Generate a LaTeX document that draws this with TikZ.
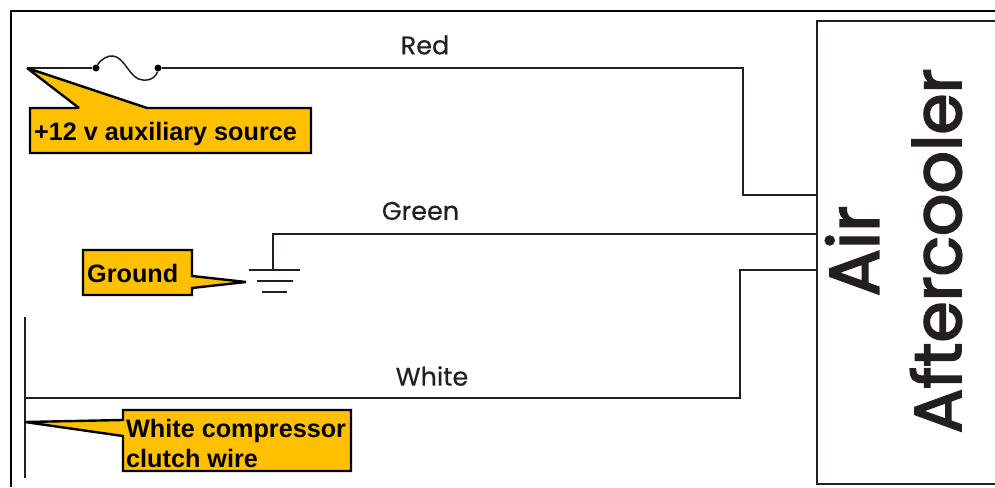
\documentclass[tikz,border=0pt]{standalone}
\usepackage{fontspec}
\setmainfont{Liberation Sans}
\newfontfamily\wirefont[FakeBold=0.5]{Poppins}
\newfontfamily\titlefont[FakeBold=2.6]{Poppins}
\definecolor{calloutgold}{HTML}{FFC000}
\definecolor{wireink}{HTML}{231F20}
\tikzset{
  wire/.style={draw=wireink,line width=2pt,line join=miter},
  frameline/.style={draw=black,line width=2.4pt},
  callout/.style={draw=black,fill=calloutgold,line width=2.4pt,line join=miter,miter limit=2.5},
  callouttext/.style={inner sep=0pt,anchor=west,align=left,font=\bfseries\fontsize{25.2}{30}\selectfont,text=black},
  wirelabel/.style={inner sep=0pt,font=\wirefont\fontsize{25.5}{25}\selectfont,text=wireink},
  titlelabel/.style={inner sep=0pt,rotate=90,text=wireink},
  dot/.style={circle,fill=black,inner sep=0pt,minimum size=7pt}
}
\begin{document}
\begin{tikzpicture}[x=1pt,y=-1pt]
\useasboundingbox (0,0) rectangle (995,487);
% page frame
\coordinate (frameTR) at (995,11);
\coordinate (frameTL) at (11,11);
\coordinate (frameBL) at (11,487);
\draw[frameline] (frameTR) -- (frameTL) -- (frameBL);
% aftercooler
\node[draw=wireink,line width=2pt,minimum width=190pt,minimum height=462pt,inner sep=0pt,anchor=north west] (cooler) at (816,20.500) {};
\node[titlelabel,font=\titlefont\fontsize{70}{70}\selectfont] (air) at (852,251) {Air};
\node[titlelabel,font=\titlefont\fontsize{66.5}{67}\selectfont] (after) at (936,251) {Aftercooler};
% wire junctions
\coordinate (src) at (27,68);
\node[dot] (fuseA) at (96,68) {};
\node[dot] (fuseB) at (158,68) {};
\coordinate (redC) at (743,68);
\coordinate (redD) at (743,195);
\coordinate (redE) at (817,195);
\coordinate (gndTop) at (273,270);
\coordinate (gndC) at (273,234);
\coordinate (gndE) at (817,234);
\coordinate (busT) at (25,317);
\coordinate (busB) at (25,478);
\coordinate (whA) at (25,398);
\coordinate (whC) at (740,398);
\coordinate (whD) at (740,270);
\coordinate (whE) at (817,270);
% wires
\draw[wire] (src) -- (fuseA);
\draw[wire,line width=1.5pt] (fuseA) .. controls (100,60) and (108,55) .. (113,56)
  .. controls (125,57) and (130,80) .. (143,80) .. controls (152,81) and (157,75) .. (fuseB);
\draw[wire] (fuseB) -- (redC) -- (redD) -- (redE);
\draw[wire] (gndTop) -- (gndC) -- (gndE);
\draw[wire] (whA) -- (whC) -- (whD) -- (whE);
\draw[wire,line width=2.2pt] (busT) -- (busB);
% ground symbol
\coordinate (g1a) at (249,270); \coordinate (g1b) at (300,270);
\coordinate (g2a) at (257,281); \coordinate (g2b) at (293,281);
\coordinate (g3a) at (262,292); \coordinate (g3b) at (287,292);
\draw[wire] (g1a) -- (g1b);
\draw[wire] (g2a) -- (g2b);
\draw[wire] (g3a) -- (g3b);
% wire labels
\node[wirelabel] (red) at (425,45) {Red};
\node[wirelabel] (green) at (420.500,211) {Green};
\node[wirelabel] (white) at (432,376) {White};
% callouts
\draw[callout] (30,108) -- (79,108) -- (27,68) -- (147,108) -- (311,108) -- (311,153) -- (30,153) -- cycle;
\node[callouttext] (lblsrc) at (34,133.500) {+12 v auxiliary source};
\draw[callout] (83,250) -- (192,250) -- (192,276) -- (246,282) -- (192,288) -- (192,295) -- (83,295) -- cycle;
\node[callouttext] (lblgnd) at (87,273.500) {Ground};
\draw[callout] (123,410) -- (351,410) -- (351,471) -- (123,471) -- (123,436) -- (25,422) -- (123,420) -- cycle;
\node[callouttext] (lblwhite) at (126,443) {White compressor\\clutch wire};
\end{tikzpicture}
\end{document}
